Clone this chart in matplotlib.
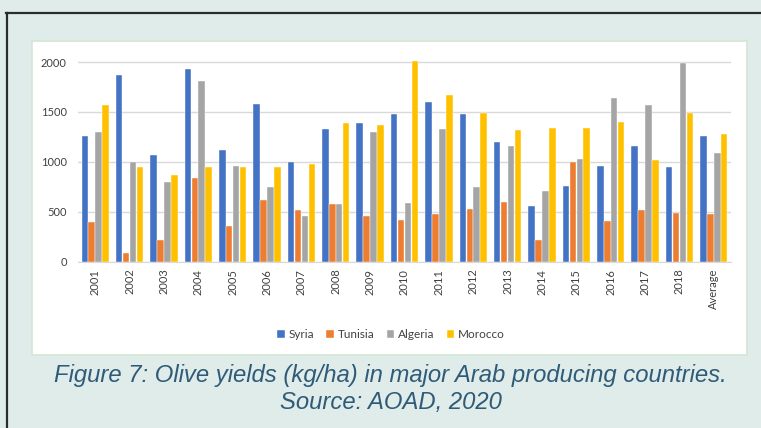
import matplotlib
matplotlib.use("Agg")
import matplotlib.pyplot as plt
import numpy as np
from matplotlib.patches import Rectangle
from matplotlib.lines import Line2D

categories = ["2001", "2002", "2003", "2004", "2005", "2006", "2007", "2008", "2009",
              "2010", "2011", "2012", "2013", "2014", "2015", "2016", "2017", "2018",
              "Average"]
syria = [1260, 1875, 1065, 1926, 1122, 1585, 995, 1330, 1387, 1477, 1598, 1484, 1196,
         563, 760, 961, 1162, 951, 1260]
tunisia = [395, 90, 214, 834, 358, 616, 523, 576, 456, 422, 482, 529, 603, 214, 995,
           409, 523, 492, 482]
algeria = [1296, 1000, 794, 1809, 961, 744, 456, 576, 1303, 590, 1330, 750, 1156, 707,
           1032, 1638, 1575, 1990, 1092]
morocco = [1575, 948, 864, 948, 948, 948, 978, 1394, 1370, 2010, 1668, 1491, 1317,
           1337, 1337, 1400, 1015, 1491, 1280]
series_names = ["Syria", "Tunisia", "Algeria", "Morocco"]
colors = ["#4472C4", "#ED7D31", "#A5A5A5", "#FFC000"]

W, H = 761, 428
bg = "#dfecea"
fig = plt.figure(figsize=(W / 100, H / 100), dpi=100, facecolor=bg)

# dark frame around the figure block
fig.add_artist(Line2D([6 / W, 1.0], [1 - 13 / H, 1 - 13 / H], color="#2b2b2b",
                      lw=1.6, zorder=-4))
fig.add_artist(Line2D([7 / W, 7 / W], [0, 1 - 13 / H], color="#2b2b2b", lw=1.6,
                      zorder=-4))

# white chart panel
fig.add_artist(Rectangle((32 / W, 1 - 355 / H), (747 - 32) / W, (355 - 41) / H,
                         facecolor="white", edgecolor="#d3e6d2", lw=1.2, zorder=-5))

ax = fig.add_axes([78 / W, 1 - 261.7 / H, (731 - 78) / W, 203.6 / H])
ax.set_facecolor("white")
x = np.arange(len(categories))
bw = 0.19
data = [syria, tunisia, algeria, morocco]
for i, (vals, c, name) in enumerate(zip(data, colors, series_names)):
    ax.bar(x + (i - 1.5) * bw * 1.06, vals, width=bw, color=c, label=name,
           edgecolor="white", linewidth=0.3, zorder=3)

ax.set_xlim(-0.5, len(categories) - 0.5)
ax.set_ylim(0, 2040)
ax.set_yticks([0, 500, 1000, 1500, 2000])
ax.yaxis.grid(True, color="#d9d9d9", lw=1.0, zorder=0)
for s in ["top", "right", "left"]:
    ax.spines[s].set_visible(False)
ax.spines["bottom"].set_color("#d9d9d9")
ax.tick_params(axis="both", length=0, colors="#404040", labelsize=8)
ax.tick_params(axis="y", pad=8)
ax.tick_params(axis="x", pad=5)
ax.set_xticks(x)
ax.set_xticklabels(categories, rotation=90, fontfamily="Lato")
for t in ax.get_yticklabels():
    t.set_fontfamily("Lato")

leg = fig.legend(loc="center", bbox_to_anchor=(391 / W, 1 - 335 / H), ncol=4,
                 frameon=False, prop={"family": "Lato", "size": 8.5},
                 handlelength=0.65, handleheight=0.65, handletextpad=0.3,
                 columnspacing=1.05)
for t in leg.get_texts():
    t.set_color("#404040")

cap_color = "#2f5b78"
fig.text(390 / W, 1 - 382.3 / H,
         "Figure 7: Olive yields (kg/ha) in major Arab producing countries.",
         ha="center", va="baseline", fontsize=17.2, style="italic",
         family="Liberation Sans", color=cap_color)
fig.text(390.5 / W, 1 - 409 / H, "Source: AOAD, 2020", ha="center", va="baseline",
         fontsize=17.2, style="italic", family="Liberation Sans", color=cap_color)

fig.savefig("out.png", dpi=100, facecolor=bg)
